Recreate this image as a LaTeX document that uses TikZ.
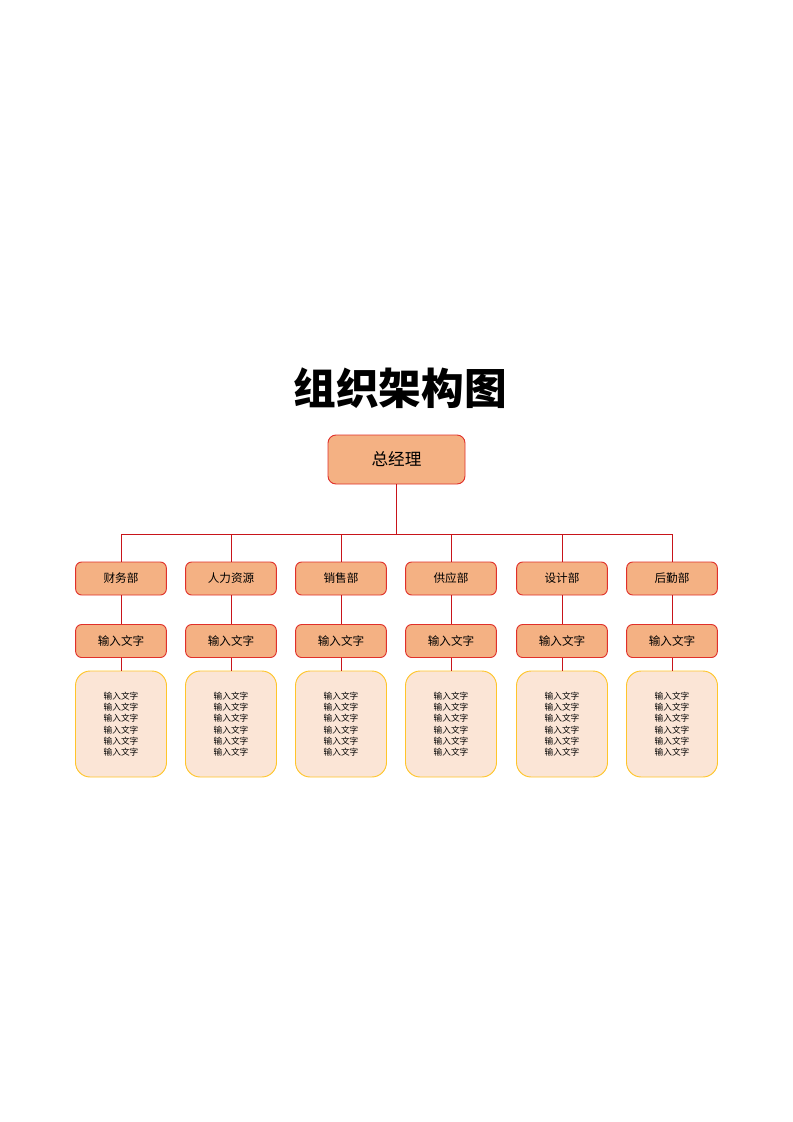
\documentclass[tikz,border=0pt]{standalone}
\usepackage{fontspec}
\setmainfont{Noto Sans CJK SC}
\usetikzlibrary{positioning}
\definecolor{boxfill}{HTML}{F4B183}
\definecolor{boxline}{HTML}{E0302A}
\definecolor{notefill}{HTML}{FBE5D6}
\definecolor{noteline}{HTML}{FFC52A}
\definecolor{linkred}{HTML}{C8141A}
\tikzset{
  head/.style={rectangle, rounded corners=6pt, draw=boxline, fill=boxfill, line width=0.7pt,
    minimum width=102.75pt, minimum height=36.75pt, inner sep=0pt, font=\fontsize{12.5}{14}\selectfont},
  dept/.style={rectangle, rounded corners=4.5pt, draw=boxline, fill=boxfill, line width=0.7pt,
    minimum width=68pt, minimum height=24.75pt, inner sep=0pt, font=\fontsize{8.7}{10}\selectfont},
  note/.style={rectangle, rounded corners=11pt, draw=noteline, fill=notefill, line width=0.7pt,
    minimum width=68.25pt, minimum height=79.5pt, inner sep=0pt, align=center,
    font=\fontsize{6.5}{8.5}\selectfont},
  link/.style={draw=linkred, line width=0.75pt}
}
\begin{document}
\begin{tikzpicture}[x=0.75pt, y=-0.75pt]
      \useasboundingbox (0,0) rectangle (793,1122);
      \node[font=\fontsize{32}{36}\selectfont\bfseries] (title) at (400,388) {组织架构图};
      \node[head] (gm) at (396.5,459.5) {总经理};
      \coordinate (bar) at (396.5,534);

      \foreach \i/\x/\name in {1/121/财务部, 2/231/人力资源, 3/341/销售部, 4/451/供应部, 5/562/设计部, 6/672/后勤部} {
        \node[dept] (d\i) at (\x,578.5) {\name};
        \node[dept] (i\i) at (\x,641) {输入文字};
        \node[note] (n\i) at (\x,724) {输入文字\\输入文字\\输入文字\\输入文字\\输入文字\\输入文字};
      }

      \draw[link] (gm.south) -- (bar);
      \draw[link] (d1.north |- bar) -- (d6.north |- bar);
      \foreach \i in {1,...,6} {
        \draw[link] (d\i.north |- bar) -- (d\i.north);
        \draw[link] (d\i) -- (i\i);
        \draw[link] (i\i) -- (n\i);
      }
    \end{tikzpicture}
\end{document}
